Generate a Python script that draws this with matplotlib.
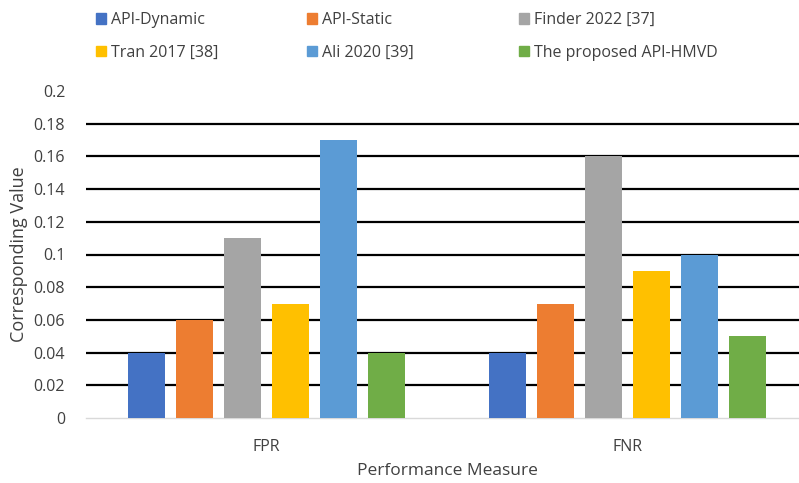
import matplotlib.pyplot as plt
import matplotlib.patches as mpatches
import numpy as np

plt.rcParams['font.family'] = ['Open Sans', 'DejaVu Sans']

# performance measures and the methods being compared
measures = ['FPR', 'FNR']
methods = ['API-Dynamic', 'API-Static', 'Finder 2022 [37]',
           'Tran 2017 [38]', 'Ali 2020 [39]', 'The proposed API-HMVD']
fpr_vals = [0.04, 0.06, 0.11, 0.07, 0.17, 0.04]
fnr_vals = [0.04, 0.07, 0.16, 0.09, 0.10, 0.05]
colors = ['#4472C4', '#ED7D31', '#A5A5A5', '#FFC000', '#5B9BD5', '#70AD47']

values = np.array([fpr_vals, fnr_vals])  # rows: measure, cols: method

fig = plt.figure(figsize=(7.99, 4.83), dpi=100)
ax = fig.add_axes([86/799, 65/483, 722/799, 327/483])

x = np.arange(len(measures))
step = 0.133
width = 0.105
for j, m in enumerate(methods):
    offs = (j - (len(methods) - 1) / 2) * step
    ax.bar(x + offs, values[:, j], width, color=colors[j], zorder=3, label=m)

ax.set_xlim(-0.5, 1.5)
ax.set_ylim(0, 0.2)
yt = np.round(np.arange(0, 0.201, 0.02), 2)
ax.set_yticks(yt)
ax.set_yticklabels(['0' if v == 0 else ('%g' % v) for v in yt], fontsize=11.5)
ax.set_xticks(x)
ax.set_xticklabels(measures, fontsize=11.5)
ax.tick_params(axis='y', length=0, colors='#404040', pad=15)
ax.tick_params(axis='x', length=0, colors='#404040', pad=15)

ax.grid(axis='y', color='black', linewidth=1.6, zorder=0)
ax.set_axisbelow(True)
# no line at the top tick or at zero
ax.yaxis.get_gridlines()[-1].set_visible(False)
ax.yaxis.get_gridlines()[0].set_visible(False)

for s in ['top', 'right', 'left']:
    ax.spines[s].set_visible(False)
ax.spines['bottom'].set_color('#D9D9D9')
ax.spines['bottom'].set_linewidth(1.0)

ax.set_ylabel('Corresponding Value', fontsize=13, color='#404040', labelpad=4)
ax.set_xlabel('Performance Measure', fontsize=12.5, color='#404040', labelpad=6)

# legend: three columns of two entries each, laid out row by row
col_x = [84/799, 295/799, 507/799]
for c in range(3):
    idx = [c, c + 3]
    handles = [mpatches.Patch(color=colors[i], label=methods[i]) for i in idx]
    leg = fig.legend(handles=handles, loc='upper left',
                     bbox_to_anchor=(col_x[c], 1.0), frameon=False,
                     fontsize=11.5, handlelength=0.65, handleheight=0.65,
                     handletextpad=0.3, labelspacing=1.05, borderaxespad=0.35)
    for t in leg.get_texts():
        t.set_color('#404040')

fig.savefig('out.png', dpi=100)
